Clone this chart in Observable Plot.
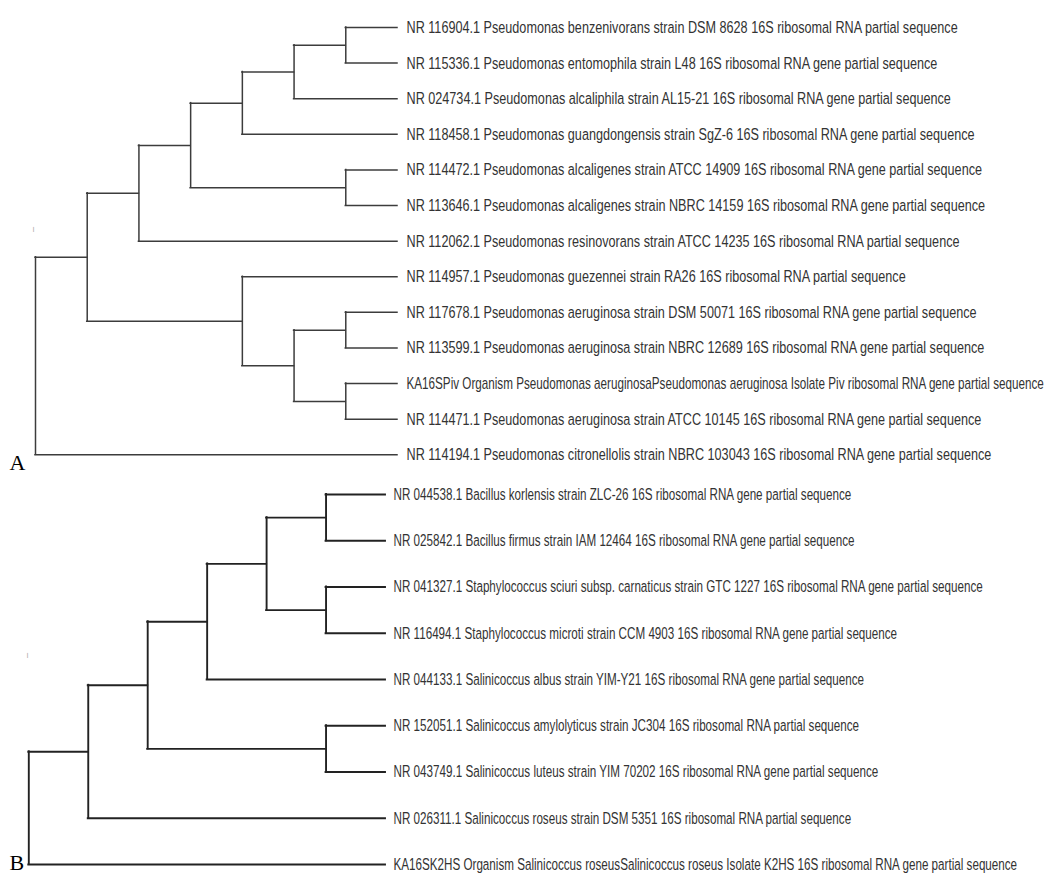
<!DOCTYPE html>
<html>
<head>
<meta charset="utf-8">
<script src="https://cdn.jsdelivr.net/npm/d3@7"></script>
<script src="https://cdn.jsdelivr.net/npm/@observablehq/plot@0.6"></script>
<style>
  body { margin: 0; background: #fff; }
  #chart svg { display: block; }
</style>
</head>
<body>
<div id="chart"></div>
<script>
// ---- Tree A (Pseudomonas) ----
const labelsA = [
  "NR 116904.1 Pseudomonas benzenivorans strain DSM 8628 16S ribosomal RNA partial sequence",
  "NR 115336.1 Pseudomonas entomophila strain L48 16S ribosomal RNA gene partial sequence",
  "NR 024734.1 Pseudomonas alcaliphila strain AL15-21 16S ribosomal RNA gene partial sequence",
  "NR 118458.1 Pseudomonas guangdongensis strain SgZ-6 16S ribosomal RNA gene partial sequence",
  "NR 114472.1 Pseudomonas alcaligenes strain ATCC 14909 16S ribosomal RNA gene partial sequence",
  "NR 113646.1 Pseudomonas alcaligenes strain NBRC 14159 16S ribosomal RNA gene partial sequence",
  "NR 112062.1 Pseudomonas resinovorans strain ATCC 14235 16S ribosomal RNA partial sequence",
  "NR 114957.1 Pseudomonas guezennei strain RA26 16S ribosomal RNA partial sequence",
  "NR 117678.1 Pseudomonas aeruginosa strain DSM 50071 16S ribosomal RNA gene partial sequence",
  "NR 113599.1 Pseudomonas aeruginosa strain NBRC 12689 16S ribosomal RNA gene partial sequence",
  "KA16SPiv Organism Pseudomonas aeruginosaPseudomonas aeruginosa Isolate Piv ribosomal RNA gene partial sequence",
  "NR 114471.1 Pseudomonas aeruginosa strain ATCC 10145 16S ribosomal RNA gene partial sequence",
  "NR 114194.1 Pseudomonas citronellolis strain NBRC 103043 16S ribosomal RNA gene partial sequence"
];
// topology: leaves are indices into labelsA (top-to-bottom order)
const topologyA = [[[[[[[0, 1], 2], 3], [4, 5]], 6], [7, [[8, 9], [10, 11]]]], 12];

// ---- Tree B (Bacillus / Staphylococcus / Salinicoccus) ----
const labelsB = [
  "NR 044538.1 Bacillus korlensis strain ZLC-26 16S ribosomal RNA gene partial sequence",
  "NR 025842.1 Bacillus firmus strain IAM 12464 16S ribosomal RNA gene partial sequence",
  "NR 041327.1 Staphylococcus sciuri subsp. carnaticus strain GTC 1227 16S ribosomal RNA gene partial sequence",
  "NR 116494.1 Staphylococcus microti strain CCM 4903 16S ribosomal RNA gene partial sequence",
  "NR 044133.1 Salinicoccus albus strain YIM-Y21 16S ribosomal RNA gene partial sequence",
  "NR 152051.1 Salinicoccus amylolyticus strain JC304 16S ribosomal RNA partial sequence",
  "NR 043749.1 Salinicoccus luteus strain YIM 70202 16S ribosomal RNA gene partial sequence",
  "NR 026311.1 Salinicoccus roseus strain DSM 5351 16S ribosomal RNA partial sequence",
  "KA16SK2HS Organism Salinicoccus roseusSalinicoccus roseus Isolate K2HS 16S ribosomal RNA gene partial sequence"
];
const topologyB = [[[[[[0, 1], [2, 3]], 4], [5, 6]], 7], 8];

const panelLetters = ["A", "B"];

// Build elbow-tree segments (cladogram: leaves aligned, internal depth = root height - node height)
function buildTree(topology, labels) {
  const root = d3.hierarchy(topology, d => Array.isArray(d) ? d : null);
  const H = root.height;
  root.eachAfter(n => {
    n.depthPos = H - n.height;
    if (n.children) {
      n.pos = (n.children[0].pos + n.children[n.children.length - 1].pos) / 2;
    } else {
      n.pos = n.data;
    }
  });
  const horiz = [], vert = [], leaves = [];
  root.each(n => {
    if (n.parent) horiz.push({x1: n.parent.depthPos, x2: n.depthPos, y: n.pos});
    if (n.children) vert.push({x: n.depthPos, y1: n.children[0].pos, y2: n.children[n.children.length - 1].pos});
    else leaves.push({x: n.depthPos, y: n.pos, label: labels[n.data]});
  });
  return {H, horiz, vert, leaves, n: labels.length};
}

const labelFont = "'Liberation Sans', Arial, sans-serif";

function drawTree(tree, opts) {
  return Plot.plot({
    width: 1047,
    height: opts.height,
    margin: 0,
    style: {background: "#fff"},
    x: {domain: [0, tree.H], range: opts.xRange, axis: null},
    y: {domain: [0, tree.n - 1], range: opts.yRange, axis: null},
    marks: [
      Plot.ruleX(tree.vert, {x: "x", y1: "y1", y2: "y2", stroke: opts.stroke, strokeWidth: opts.sw, strokeLinecap: "square"}),
      Plot.ruleY(tree.horiz, {y: "y", x1: "x1", x2: "x2", stroke: opts.stroke, strokeWidth: opts.sw, strokeLinecap: "square"}),
      Plot.text(tree.leaves, {x: "x", y: "y", text: "label", textAnchor: "start", lineAnchor: "middle",
        dx: opts.dx, fontSize: 17, fontFamily: labelFont, fill: "#333"}),
      Plot.text([opts.letter], {frameAnchor: "bottom-left", dx: 9, dy: opts.letterDy, lineAnchor: "bottom",
        textAnchor: "start", fontSize: 22, fontFamily: "Liberation Serif, Times New Roman, serif", fill: "#000"}),
      Plot.text(["I"], {frameAnchor: "left", dx: opts.markDx, dy: opts.markDy, textAnchor: "middle",
        fontSize: 7, fill: "#aaa", fontFamily: "DejaVu Sans"})
    ]
  });
}

const treeA = buildTree(topologyA, labelsA);
const treeB = buildTree(topologyB, labelsB);

const svgA = drawTree(treeA, {height: 476, xRange: [35, 397], yRange: [27, 454.3], stroke: "#3c3c3c", sw: 1.5,
  dx: 9, letter: panelLetters[0], letterDy: -7, markDx: 33, markDy: -9});
const svgB = drawTree(treeB, {height: 397, xRange: [28.3, 385], yRange: [18, 388], stroke: "#222", sw: 1.9,
  dx: 8, letter: panelLetters[1], letterDy: -4, markDx: 27, markDy: -19.5});

const chart = document.getElementById("chart");
chart.appendChild(svgA);
chart.appendChild(svgB);

// horizontally condense the leaf labels (the source uses a tall, narrow typeface),
// never letting a label run past the right edge of the page
function condense(svg, k) {
  const box = svg.getBoundingClientRect();
  svg.querySelectorAll("text").forEach(t => {
    if (t.textContent.length <= 5) return;
    const r = t.getBoundingClientRect();
    const left = r.left - box.left;
    const s = Math.min(k, (box.width - 3 - left) / r.width);
    const x = t.getAttribute("x");
    let tr = t.getAttribute("transform") || "";
    if (x !== null && !isNaN(+x)) { tr += ` translate(${+x},0)`; t.removeAttribute("x"); }
    t.setAttribute("transform", `${tr} scale(${s.toFixed(4)},1)`);
  });
}
condense(svgA, 0.744);
condense(svgB, 0.686);
</script>
</body>
</html>
